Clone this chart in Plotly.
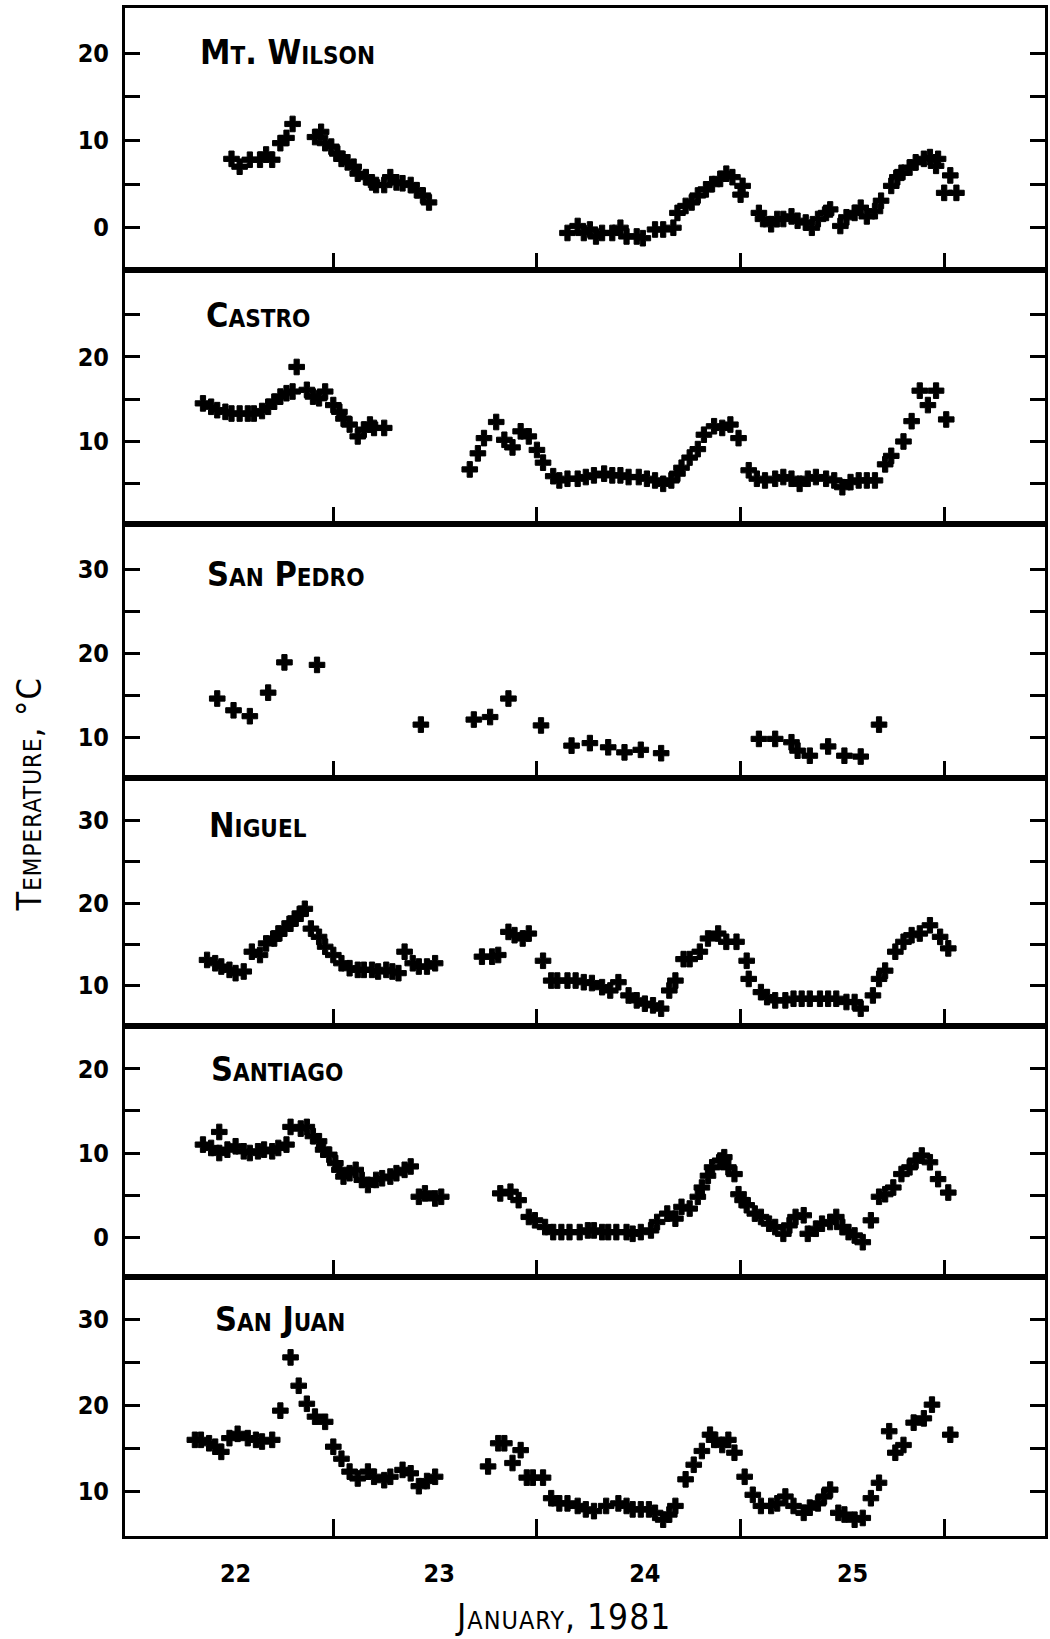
import plotly.graph_objects as go

# ---------------- data (day of January 1981, temperature in deg C) ----------------
mtwilson_day = [22.50, 22.54, 22.59, 22.64, 22.67, 22.70, 22.74, 22.77, 22.80, 22.91, 22.94, 22.96,
                22.99, 23.02, 23.04, 23.07, 23.10, 23.12, 23.16, 23.19, 23.21, 23.25, 23.28, 23.31,
                23.34, 23.38, 23.41, 23.44, 23.47,
                24.15, 24.20, 24.23, 24.26, 24.29, 24.32, 24.37, 24.41, 24.44, 24.49, 24.52, 24.58,
                24.62, 24.67, 24.69, 24.73, 24.76, 24.79, 24.83, 24.86, 24.90, 24.93, 24.96, 25.00,
                25.01, 25.09, 25.11, 25.15, 25.18, 25.21, 25.25, 25.28, 25.32, 25.35, 25.38, 25.42,
                25.44, 25.49, 25.52, 25.56, 25.59, 25.62, 25.66, 25.69, 25.74, 25.77, 25.79, 25.83,
                25.86, 25.90, 25.93, 25.96, 25.97, 26.00, 26.03, 26.06]
mtwilson_temp = [7.9, 7.0, 7.8, 7.8, 8.4, 7.8, 9.7, 10.3, 11.9, 10.4, 11.0, 9.7,
                 9.3, 8.5, 7.9, 7.5, 7.0, 6.2, 5.8, 5.2, 4.9, 4.9, 5.8, 5.2,
                 5.1, 4.9, 4.3, 3.7, 2.9,
                 -0.6, 0.2, -0.6, -0.2, -1.0, -0.6, -0.6, 0.0, -1.0, -1.0, -1.2, -0.2,
                 -0.2, 0.0, 1.7, 2.5, 2.9, 3.7, 4.4, 5.0, 5.6, 6.2, 5.8, 3.8,
                 4.8, 1.7, 1.0, 0.4, 1.0, 1.0, 1.3, 0.8, 0.6, 0.0, 1.0, 1.7,
                 2.1, 0.2, 1.2, 1.7, 2.3, 1.3, 1.9, 3.1, 4.8, 5.8, 6.3, 6.9,
                 7.5, 7.9, 8.1, 7.1, 7.9, 4.0, 6.0, 4.0]

castro_day = [22.36, 22.40, 22.43, 22.47, 22.50, 22.54, 22.58, 22.61, 22.65, 22.68, 22.71, 22.74,
              22.77, 22.80, 22.82, 22.87, 22.90, 22.93, 22.96, 23.00, 23.03, 23.05, 23.08, 23.12,
              23.15, 23.18, 23.20, 23.25,
              23.67, 23.71, 23.74, 23.80, 23.84, 23.88, 23.92, 23.96, 24.00, 24.03, 24.08, 24.11,
              24.15, 24.20, 24.24, 24.28, 24.33, 24.37, 24.41, 24.45, 24.50, 24.54, 24.58, 24.62,
              24.66, 24.69, 24.71, 24.75, 24.79, 24.82, 24.87, 24.91, 24.95, 24.99,
              25.04, 25.08, 25.12, 25.17, 25.21, 25.25, 25.29, 25.33, 25.37, 25.42, 25.46, 25.50,
              25.54, 25.58, 25.62, 25.66, 25.71, 25.74, 25.80, 25.84, 25.88, 25.92, 25.96, 26.01]
castro_temp = [14.5, 14.1, 13.7, 13.5, 13.3, 13.3, 13.3, 13.3, 13.6, 14.1, 14.7, 15.3,
               15.7, 15.9, 18.8, 16.1, 15.3, 15.1, 15.9, 14.3, 13.5, 12.7, 12.0, 10.6,
               11.4, 12.0, 11.6, 11.6,
               6.7, 8.6, 10.4, 12.3, 10.2, 9.3, 11.2, 10.6, 9.0, 7.5, 5.9, 5.4,
               5.6, 5.6, 5.8, 6.0, 6.2, 6.0, 6.0, 5.8, 5.8, 5.6, 5.4, 5.0,
               5.4, 6.2, 6.9, 8.1, 9.1, 10.8, 11.8, 11.6, 12.0, 10.4,
               6.6, 5.6, 5.4, 5.6, 5.8, 5.6, 5.0, 5.6, 5.8, 5.6, 5.4, 4.6,
               5.2, 5.4, 5.4, 5.4, 7.3, 8.3, 10.0, 12.4, 16.0, 14.3, 16.0, 12.6]

sanpedro_day = [22.43, 22.51, 22.59, 22.68, 22.76, 22.92, 23.43, 23.69, 23.77, 23.86, 24.02,
                24.17, 24.26, 24.35, 24.43, 24.51, 24.61,
                25.09, 25.17, 25.25, 25.28, 25.34, 25.43, 25.51, 25.59, 25.68]
sanpedro_temp = [14.6, 13.2, 12.5, 15.3, 18.9, 18.6, 11.5, 12.1, 12.4, 14.6, 11.4,
                 9.0, 9.3, 8.8, 8.2, 8.5, 8.1,
                 9.8, 9.8, 9.4, 8.4, 7.8, 8.9, 7.8, 7.7, 11.5]

niguel_day = [22.38, 22.42, 22.45, 22.49, 22.52, 22.56, 22.60, 22.64, 22.67, 22.71, 22.73, 22.76,
              22.79, 22.81, 22.84, 22.86, 22.89, 22.93, 22.96, 23.00, 23.04, 23.08, 23.12, 23.15,
              23.19, 23.22, 23.26, 23.29, 23.32, 23.35, 23.39, 23.42, 23.46, 23.50,
              23.73, 23.78, 23.81, 23.86, 23.89, 23.93, 23.96,
              24.03, 24.07, 24.10, 24.15, 24.19, 24.23, 24.27, 24.32, 24.36, 24.40, 24.45, 24.49,
              24.53, 24.57, 24.61, 24.65, 24.68, 24.72, 24.75, 24.80, 24.84, 24.89, 24.93, 24.98,
              25.03, 25.04, 25.10, 25.13, 25.17, 25.22, 25.26, 25.30, 25.34, 25.39, 25.43, 25.47,
              25.52, 25.56, 25.59, 25.65, 25.68, 25.71, 25.76, 25.80, 25.84, 25.88, 25.93, 25.98,
              26.02]
niguel_temp = [13.1, 12.7, 12.3, 11.9, 11.5, 11.7, 14.1, 13.7, 15.1, 15.7, 16.3, 16.9,
               17.5, 18.1, 18.7, 19.3, 16.9, 15.9, 14.7, 13.7, 12.7, 12.1, 11.9, 11.9,
               11.9, 11.7, 11.9, 11.7, 11.5, 14.1, 12.7, 12.3, 12.3, 12.7,
               13.5, 13.5, 13.7, 16.5, 16.1, 15.7, 16.3,
               13.0, 10.6, 10.6, 10.6, 10.6, 10.4, 10.3, 9.8, 9.4, 10.4, 8.8, 8.2,
               7.8, 7.6, 7.2, 9.4, 10.6, 13.2, 13.2, 14.1, 15.7, 16.3, 15.3, 15.3,
               13.0, 10.8, 9.2, 8.6, 8.2, 8.2, 8.4, 8.4, 8.4, 8.4, 8.4, 8.4,
               8.0, 8.0, 7.2, 8.8, 10.8, 11.8, 14.1, 15.3, 16.1, 16.3, 17.3, 15.9,
               14.5]

santiago_day = [22.36, 22.40, 22.44, 22.44, 22.48, 22.52, 22.56, 22.59, 22.63, 22.66, 22.70, 22.73,
                22.77, 22.79, 22.84, 22.87, 22.90, 22.93, 22.95, 22.98, 23.01, 23.03, 23.05, 23.08,
                23.11, 23.14, 23.17, 23.21, 23.24, 23.28, 23.31, 23.35, 23.38, 23.42, 23.45, 23.50,
                23.53,
                23.82, 23.87, 23.91, 23.96, 23.99, 24.04, 24.08, 24.12, 24.16, 24.21, 24.25, 24.28,
                24.32, 24.35, 24.39, 24.44, 24.47, 24.51, 24.56, 24.59, 24.64, 24.68, 24.71, 24.75,
                24.79, 24.81, 24.84, 24.86, 24.90, 24.92, 24.94, 24.97, 24.99, 25.01, 25.03, 25.07,
                25.10, 25.14, 25.17, 25.21, 25.24, 25.27, 25.31, 25.33, 25.37, 25.40, 25.44, 25.47,
                25.50, 25.53, 25.56, 25.60, 25.64, 25.68, 25.71, 25.75, 25.79, 25.83, 25.86, 25.89,
                25.93, 25.97, 26.02]
santiago_temp = [11.0, 10.6, 12.5, 10.0, 10.4, 10.8, 10.2, 10.0, 10.2, 10.4, 10.2, 10.6,
                 11.0, 13.1, 12.9, 13.1, 12.0, 11.4, 10.4, 9.8, 8.8, 8.0, 7.2, 7.6,
                 8.0, 6.8, 6.2, 6.8, 7.0, 7.2, 7.6, 8.0, 8.4, 4.8, 5.2, 4.6,
                 4.8,
                 5.2, 5.4, 4.4, 2.4, 2.0, 1.2, 0.6, 0.6, 0.6, 0.6, 0.8, 0.8,
                 0.6, 0.6, 0.6, 0.6, 0.4, 0.6, 0.8, 1.8, 2.8, 2.2, 3.6, 3.4,
                 4.8, 5.9, 7.3, 8.3, 9.1, 9.5, 8.3, 7.5, 5.1, 4.4, 3.8, 2.8,
                 2.4, 1.6, 1.2, 0.4, 1.4, 2.4, 2.6, 0.4, 1.0, 1.6, 1.8, 2.4,
                 1.2, 0.6, 0.2, -0.6, 2.0, 4.8, 5.1, 5.9, 7.5, 8.3, 9.1, 9.7,
                 8.9, 6.9, 5.3]

sanjuan_day = [22.32, 22.35, 22.39, 22.42, 22.45, 22.49, 22.53, 22.58, 22.62, 22.65, 22.70, 22.74,
               22.79, 22.83, 22.87, 22.91, 22.96, 23.00, 23.04, 23.08, 23.12, 23.17, 23.20, 23.25,
               23.28, 23.34, 23.38, 23.42, 23.46, 23.50,
               23.76, 23.81, 23.84, 23.88, 23.92,
               23.95, 23.98, 24.03, 24.07, 24.11, 24.15, 24.20, 24.24, 24.28, 24.34, 24.40, 24.44,
               24.47, 24.51, 24.55, 24.58, 24.62, 24.65, 24.68, 24.73, 24.77, 24.81, 24.85, 24.87,
               24.91, 24.94, 24.97, 25.02, 25.06, 25.10, 25.15, 25.18, 25.22, 25.26, 25.31, 25.34,
               25.38, 25.41, 25.44, 25.48, 25.51, 25.56, 25.60, 25.64, 25.68, 25.73, 25.76, 25.80,
               25.85, 25.90, 25.94, 26.03]
sanjuan_temp = [16.0, 16.0, 15.6, 15.2, 14.6, 16.2, 16.7, 16.2, 16.0, 15.8, 16.0, 19.4,
                25.6, 22.3, 20.2, 18.7, 18.1, 15.2, 13.8, 12.3, 11.5, 12.3, 11.7, 11.3,
                11.7, 12.5, 12.1, 10.6, 11.2, 11.7,
                12.9, 15.6, 15.6, 13.3, 14.8,
                11.6, 11.6, 11.6, 9.2, 8.6, 8.6, 8.3, 7.9, 7.7, 8.3, 8.6, 8.3,
                7.9, 7.9, 7.9, 7.5, 6.7, 7.3, 8.3, 11.4, 13.1, 14.7, 16.6, 16.0,
                15.4, 16.0, 14.5, 11.7, 9.6, 8.3, 8.3, 8.6, 9.4, 8.3, 7.5, 8.1,
                8.6, 9.4, 10.2, 7.5, 7.3, 6.7, 6.9, 9.2, 11.0, 17.0, 14.5, 15.4,
                18.0, 18.5, 20.1, 16.6]

station_names = ["Mt. Wilson", "Castro", "San Pedro", "Niguel", "Santiago", "San Juan"]
station_days = [mtwilson_day, castro_day, sanpedro_day, niguel_day, santiago_day, sanjuan_day]
station_temps = [mtwilson_temp, castro_temp, sanpedro_temp, niguel_temp, santiago_temp, sanjuan_temp]

y_ranges = [[-4.8, 25.2], [0.2, 30.3], [5.1, 35.3], [5.1, 35.1], [-4.7, 25.1], [4.8, 35.0]]
y_tickvals = [[0, 5, 10, 15, 20],
              [5, 10, 15, 20, 25],
              [10, 15, 20, 25, 30],
              [10, 15, 20, 25, 30],
              [0, 5, 10, 15, 20],
              [10, 15, 20, 25, 30]]
y_ticktext = [["0", "", "10", "", "20"],
              ["", "10", "", "20", ""],
              ["10", "", "20", "", "30"],
              ["10", "", "20", "", "30"],
              ["0", "", "10", "", "20"],
              ["10", "", "20", "", "30"]]

day_boundaries = [23, 24, 25, 26]
day_label_pos = [22.52, 23.52, 24.53, 25.55]
day_labels = ["22", "23", "24", "25"]
x_range = [21.977, 26.495]

# ---------------- layout geometry ----------------
W, H = 1050, 1639
ML, MR, MT, MB = 125, 2, 8, 103
domains = [[0.8288, 1.0], [0.6620, 0.8288], [0.4958, 0.6620],
           [0.3338, 0.4958], [0.1697, 0.3338], [0.0, 0.1697]]
title_pos = [(0.0796, 0.9712), (0.0856, 0.7988), (0.0867, 0.6298),
             (0.0888, 0.4653), (0.0910, 0.3056), (0.0953, 0.1423)]

FONT = "DejaVu Sans Condensed, Liberation Sans Narrow, DejaVu Sans, sans-serif"

fig = go.Figure()
layout = dict(
    width=W, height=H,
    margin=dict(l=ML, r=MR, t=MT, b=MB),
    paper_bgcolor="white", plot_bgcolor="white",
    showlegend=False,
    font=dict(family=FONT, color="black"),
)

annotations = []
for i in range(6):
    n = i + 1
    fig.add_trace(go.Scatter(
        x=station_days[i], y=station_temps[i],
        mode="markers",
        marker=dict(symbol="cross", size=13, color="black",
                    line=dict(width=1, color="black")),
        xaxis=f"x{n}", yaxis=f"y{n}", hoverinfo="x+y",
    ))
    layout[f"xaxis{n}"] = dict(
        domain=[0, 1], anchor=f"y{n}", range=x_range,
        showline=True, mirror=True, linewidth=3, linecolor="black",
        ticks="inside", tickvals=day_boundaries, ticklen=17, tickwidth=3,
        tickcolor="black", showticklabels=False, showgrid=False, zeroline=False,
    )
    layout[f"yaxis{n}"] = dict(
        domain=domains[i], anchor=f"x{n}", range=y_ranges[i],
        showline=True, mirror="ticks", linewidth=3, linecolor="black",
        ticks="inside", tickvals=y_tickvals[i], ticktext=y_ticktext[i],
        ticklen=15, tickwidth=3, tickcolor="black",
        tickfont=dict(family=FONT, size=25, weight="bold", color="black"),
        ticklabelstandoff=8,
        showgrid=False, zeroline=False,
    )
    annotations.append(dict(
        text=station_names[i],
        x=title_pos[i][0], y=title_pos[i][1], xref="paper", yref="paper",
        xanchor="left", yanchor="middle", showarrow=False,
        font=dict(family=FONT, size=34, weight="bold", variant="small-caps", color="black"),
    ))

# day labels on an overlaying axis (no ticks)
fig.add_trace(go.Scatter(x=[], y=[], xaxis="x7", yaxis="y6", showlegend=False, hoverinfo="skip"))
layout["xaxis7"] = dict(
    overlaying="x6", anchor="y6", domain=[0, 1], range=x_range, side="bottom",
    tickvals=day_label_pos, ticktext=day_labels, ticks="", showline=False,
    showgrid=False, zeroline=False, ticklabelstandoff=20,
    tickfont=dict(family=FONT, size=25, weight="bold", color="black"),
)

annotations.append(dict(
    text='<span style="letter-spacing:1px">January, 1981</span>',
    x=0.4756, y=-0.053, xref="paper", yref="paper",
    xanchor="center", yanchor="middle", showarrow=False,
    font=dict(family=FONT, size=35, variant="small-caps", color="black"),
))
annotations.append(dict(
    text='<span style="letter-spacing:1px">Temperature, °C</span>',
    x=-0.104, y=0.4855, xref="paper", yref="paper", textangle=-90,
    xanchor="center", yanchor="middle", showarrow=False,
    font=dict(family=FONT, size=34, variant="small-caps", color="black"),
))
layout["annotations"] = annotations
fig.update_layout(**layout)

fig.write_html("out.html")
